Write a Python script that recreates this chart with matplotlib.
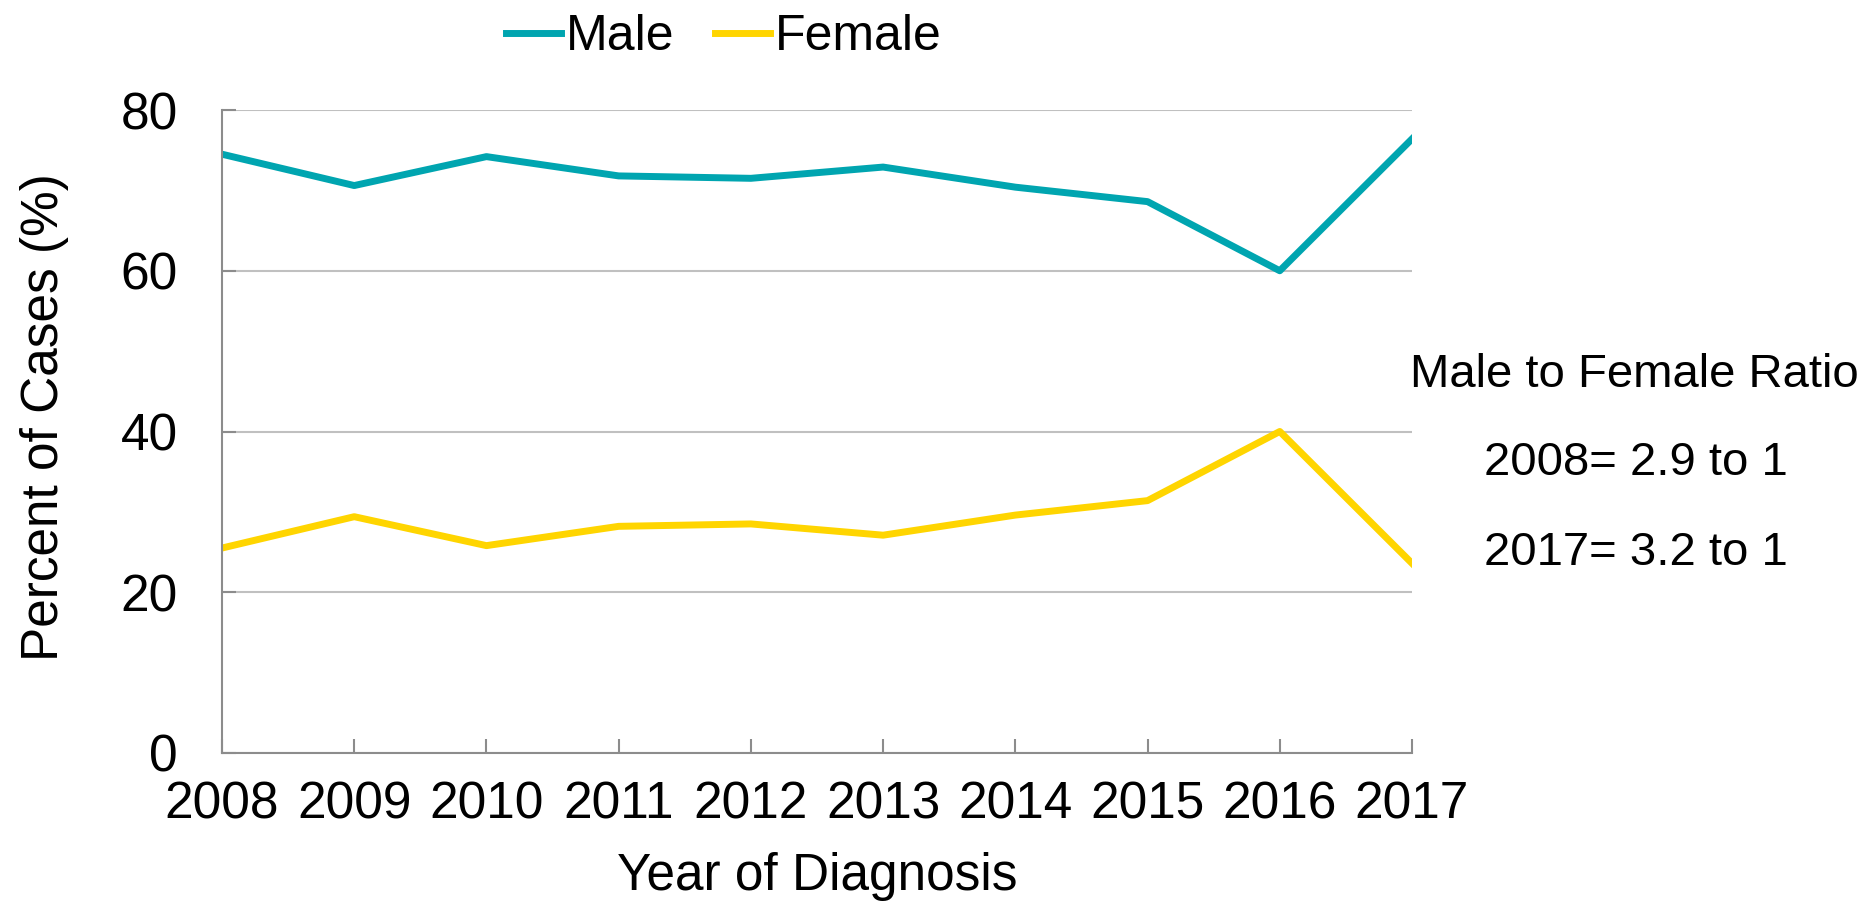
import matplotlib
matplotlib.use("Agg")
import matplotlib.pyplot as plt

years = [2008, 2009, 2010, 2011, 2012, 2013, 2014, 2015, 2016, 2017]
male = [74.5, 70.6, 74.2, 71.8, 71.5, 72.9, 70.4, 68.6, 60.0, 76.4]
female = [25.5, 29.4, 25.8, 28.2, 28.5, 27.1, 29.6, 31.4, 40.0, 23.6]
y_ticks = [0, 20, 40, 60, 80]
ratio_lines = ["Male to Female Ratio", "2008= 2.9 to 1", "2017= 3.2 to 1"]

plt.rcParams["font.family"] = "Liberation Sans"

teal = "#00A5B0"
yellow = "#FFD500"

fig = plt.figure(figsize=(18.72, 9.02), dpi=100)
ax = fig.add_axes([222 / 1872, 1 - 753 / 902, (1412 - 222) / 1872, (753 - 110) / 902])

ax.plot(years, male, color=teal, lw=5, label="Male")
ax.plot(years, female, color=yellow, lw=5, label="Female")

ax.set_xlim(years[0], years[-1])
ax.set_ylim(0, 80)
ax.set_yticks(y_ticks)
ax.set_xticks(years)
ax.yaxis.grid(True, color="#c0c0c0", lw=1.5)
ax.set_axisbelow(True)

for s in ["top", "right"]:
    ax.spines[s].set_visible(False)
for s in ["left", "bottom"]:
    ax.spines[s].set_color("#8c8c8c")
    ax.spines[s].set_linewidth(1.5)

ax.xaxis.set_tick_params(direction="in", length=10, width=1.5, color="#8c8c8c",
                         labelsize=37, pad=20)
ax.yaxis.set_tick_params(direction="in", length=10, width=1.5, color="#8c8c8c",
                         labelsize=37, pad=32)

ax.set_ylabel("Percent of Cases (%)", fontsize=37, labelpad=37)
ax.yaxis.label.set_y(0.522)
ax.set_xlabel("Year of Diagnosis", fontsize=37, labelpad=16)

fig.legend(loc="center", bbox_to_anchor=(724 / 1872, 1 - 37 / 902), ncol=2,
           frameon=False, prop={"size": 36},
           handlelength=1.1, handletextpad=0.1, columnspacing=0.8)

fig.text(1410 / 1872, 1 - 375 / 902, ratio_lines[0], fontsize=34,
         va="center", ha="left")
fig.text(1484 / 1872, 1 - 463 / 902, ratio_lines[1], fontsize=34,
         va="center", ha="left")
fig.text(1484 / 1872, 1 - 553 / 902, ratio_lines[2], fontsize=34,
         va="center", ha="left")

fig.savefig("out.png", dpi=100)
